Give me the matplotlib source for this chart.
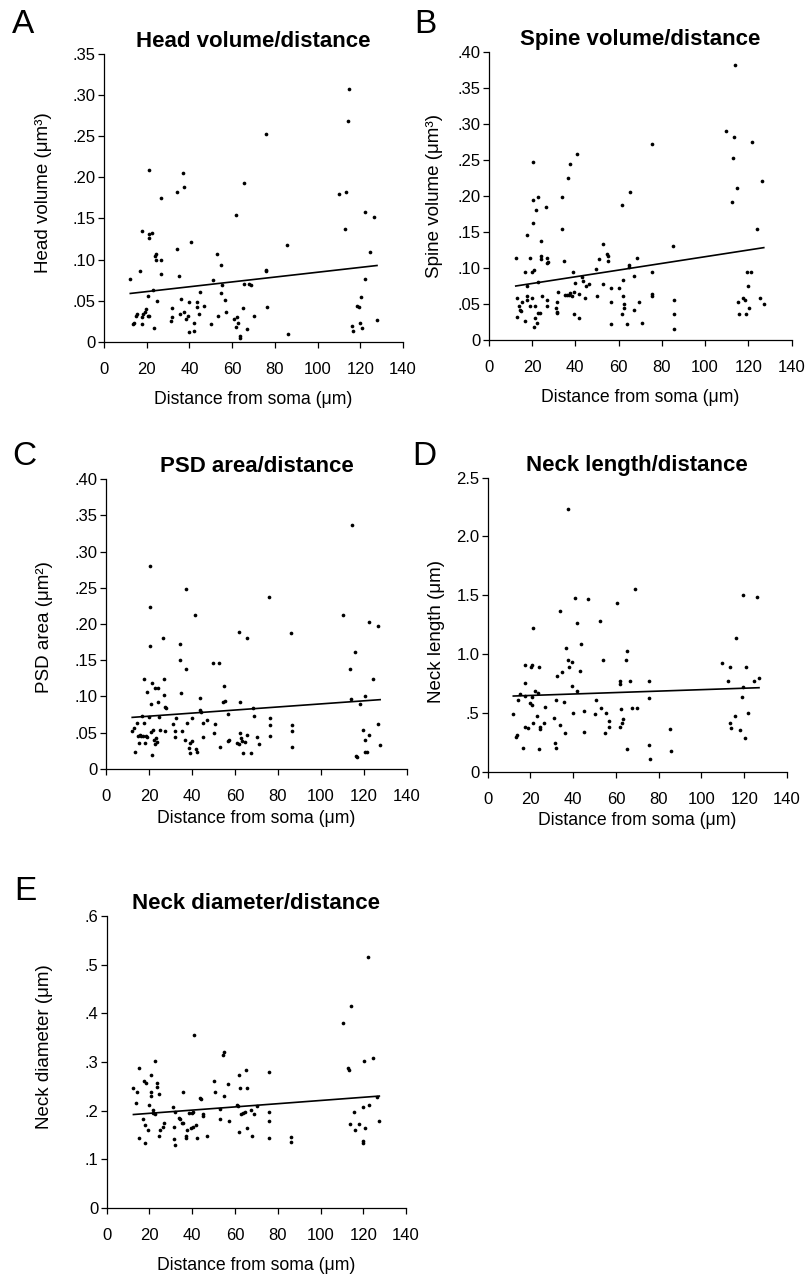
import numpy as np
import matplotlib.pyplot as plt

plt.rcParams['font.family'] = ['Liberation Sans', 'DejaVu Sans']

# A - head volume
x_a = [12.3, 13.5, 14.2, 15, 15.3, 16.8, 17.8, 17.8, 17.8, 18.4, 19.3, 19.8, 20.4, 20.8, 20.9, 20.9,
       21.1, 21.2, 22.3, 22.8, 23.6, 23.9, 24.1, 24.4, 24.7, 26.6, 26.7, 26.7, 31.4, 31.6, 31.9, 34.1,
       34.1, 34.9, 35.8, 36.2, 36.8, 37.4, 37.6, 38.2, 39.3, 39.6, 39.8, 40.9, 42, 42, 43.7, 43.6,
       44.5, 45, 46.7, 50, 50.8, 52.8, 53.3, 54.6, 54.9, 55.3, 56.6, 57.2, 61, 61.6, 62, 62.4, 62.9,
       63.7, 63.7, 65, 65.6, 65.6, 67.1, 67.8, 68.7, 70, 75.9, 75.9, 75.9, 76.1, 85.7, 86, 110.2,
       112.7, 113.5, 114, 114.5, 115.9, 116.4, 118.4, 119.2, 119.7, 120.3, 121, 122.2, 122.2, 124.4,
       126.6, 127.8]
y_a = [0.076, 0.0215, 0.0227, 0.032, 0.034, 0.086, 0.135, 0.0215, 0.030, 0.034, 0.036, 0.040, 0.032,
       0.056, 0.209, 0.131, 0.126, 0.032, 0.132, 0.063, 0.017, 0.105, 0.099, 0.107, 0.050, 0.175, 0.099,
       0.082, 0.026, 0.030, 0.041, 0.182, 0.113, 0.080, 0.034, 0.052, 0.205, 0.036, 0.188, 0.028, 0.032,
       0.012, 0.048, 0.122, 0.0235, 0.013, 0.048, 0.042, 0.034, 0.061, 0.044, 0.022, 0.075, 0.107, 0.032,
       0.059, 0.093, 0.069, 0.051, 0.036, 0.028, 0.154, 0.018, 0.030, 0.0235, 0.0073, 0.0053, 0.041,
       0.193, 0.070, 0.016, 0.070, 0.069, 0.031, 0.253, 0.087, 0.086, 0.043, 0.118, 0.010, 0.180, 0.137,
       0.182, 0.268, 0.307, 0.019, 0.013, 0.044, 0.043, 0.0235, 0.054, 0.017, 0.158, 0.076, 0.109,
       0.152, 0.027]
fit_a = (0.000294, 0.0553)

# B - spine volume
x_b = [12.5, 13.2, 13.2, 14, 14.5, 15, 15.2, 16.6, 16.8, 17.5, 17.5, 17.9, 17.9, 18.9, 19.3, 19.9,
       20.2, 20.6, 20.6, 20.6, 20.8, 21.1, 21.4, 21.6, 22, 22.2, 22.6, 22.6, 22.8, 23.7, 24, 24, 24.2,
       24.5, 26.3, 26.8, 26.9, 26.9, 27.1, 27.6, 31.1, 31.4, 31.4, 31.7, 32.2, 33.9, 33.9, 34.7, 35.4,
       36, 36.7, 37.3, 37.6, 37.6, 38.3, 39, 39.3, 39.4, 39.9, 40.7, 41.6, 41.9, 43.3, 43.6, 44.5, 44.9,
       46.5, 49.6, 50.2, 50.8, 52.8, 53, 54.8, 55.1, 55.1, 56.4, 56.7, 56.7, 60.2, 61.8, 61.8, 62.1,
       62.2, 62.7, 62.7, 63.8, 64.7, 65, 65.1, 67.3, 67.3, 68.7, 69.6, 70.7, 75.6, 75.6, 75.6, 75.6,
       85.3, 85.5, 85.5, 85.5, 109.7, 112.4, 112.7, 113.4, 113.7, 114.7, 115.4, 115.8, 117.4, 118.4,
       118.9, 119.4, 119.8, 120.4, 121.4, 121.8, 124.1, 125.5, 126.1, 127.1]
y_b = [0.1145, 0.058, 0.032, 0.047, 0.042, 0.041, 0.053, 0.095, 0.027, 0.146, 0.075, 0.061, 0.056,
       0.1145, 0.047, 0.058, 0.095, 0.2466, 0.194, 0.163, 0.0185, 0.097, 0.047, 0.030, 0.180, 0.024,
       0.199, 0.038, 0.081, 0.038, 0.117, 0.112, 0.137, 0.061, 0.185, 0.1145, 0.056, 0.047, 0.107,
       0.109, 0.044, 0.039, 0.038, 0.053, 0.067, 0.199, 0.154, 0.110, 0.062, 0.062, 0.225, 0.062, 0.245,
       0.065, 0.061, 0.095, 0.036, 0.067, 0.079, 0.2586, 0.030, 0.064, 0.088, 0.082, 0.059, 0.0755,
       0.078, 0.098, 0.061, 0.112, 0.134, 0.078, 0.1195, 0.117, 0.110, 0.072, 0.053, 0.022, 0.072,
       0.188, 0.036, 0.084, 0.061, 0.050, 0.044, 0.022, 0.104, 0.102, 0.205, 0.042, 0.089, 0.1145,
       0.053, 0.024, 0.272, 0.095, 0.064, 0.061, 0.131, 0.056, 0.036, 0.016, 0.290, 0.191, 0.2526,
       0.282, 0.382, 0.211, 0.053, 0.036, 0.058, 0.056, 0.036, 0.095, 0.0755, 0.044, 0.095, 0.275,
       0.154, 0.058, 0.2215, 0.050]
fit_b = (0.000465, 0.0692)

# C - PSD area
x_c = [12.2, 12.8, 13.7, 14.3, 14.8, 15.3, 15.9, 16.4, 16.8, 17.1, 17.6, 17.9, 18.1, 18.4, 19.2, 19.2,
       20, 20.6, 20.7, 20.7, 21, 21, 21.4, 21.5, 22, 22.3, 22.6, 22.9, 23.4, 23.7, 24.2, 24.2, 24.6,
       24.9, 26.5, 26.8, 26.8, 27.3, 27.3, 27.7, 31.2, 32, 32, 32.4, 34.3, 34.3, 35.1, 35.5, 36.6, 37.1,
       37.4, 37.9, 38.5, 39, 39.3, 39.8, 40.2, 41.3, 41.8, 42.1, 43.6, 43.9, 44.4, 44.9, 45.2, 47.1,
       49.9, 50.4, 50.8, 52.7, 53, 54.6, 54.9, 55.5, 56.6, 56.9, 57.4, 60.8, 61.7, 62, 62.4, 62.4, 62.7,
       63.2, 63.9, 64.7, 65.5, 65.5, 67.5, 68.3, 68.9, 70.1, 71.1, 75.8, 76.1, 76.1, 76.1, 86.2, 86.5,
       86.5, 86.5, 110.4, 113.5, 113.8, 114.3, 115.7, 116.1, 116.6, 118.2, 119.7, 120.3, 120.5, 120.6,
       121.3, 122.2, 122.5, 124.4, 126.3, 126.4, 127.5]
y_c = [0.052, 0.0566, 0.024, 0.064, 0.045, 0.036, 0.047, 0.045, 0.073, 0.046, 0.124, 0.064, 0.036,
       0.045, 0.106, 0.044, 0.072, 0.280, 0.224, 0.170, 0.089, 0.051, 0.119, 0.0198, 0.054, 0.040, 0.034,
       0.112, 0.043, 0.037, 0.112, 0.092, 0.072, 0.054, 0.181, 0.124, 0.1025, 0.086, 0.052, 0.084,
       0.0625, 0.052, 0.044, 0.070, 0.173, 0.150, 0.105, 0.052, 0.040, 0.248, 0.138, 0.064, 0.029,
       0.036, 0.022, 0.038, 0.070, 0.213, 0.027, 0.024, 0.098, 0.082, 0.078, 0.044, 0.064, 0.068, 0.146,
       0.050, 0.0625, 0.146, 0.030, 0.092, 0.114, 0.094, 0.076, 0.038, 0.040, 0.036, 0.034, 0.189, 0.092,
       0.050, 0.043, 0.038, 0.022, 0.037, 0.181, 0.047, 0.022, 0.084, 0.0735, 0.044, 0.034, 0.237,
       0.070, 0.060, 0.046, 0.187, 0.060, 0.052, 0.030, 0.213, 0.138, 0.096, 0.3366, 0.162, 0.0175,
       0.0166, 0.090, 0.054, 0.024, 0.100, 0.040, 0.024, 0.047, 0.203, 0.124, 0.0625, 0.197, 0.033]
fit_c = (0.000212, 0.0686)

# D - neck length
x_d = [12, 13.2, 13.9, 14.2, 15.1, 16.7, 17.3, 17.3, 17.6, 17.6, 19, 19.8, 20.1, 20.6, 20.7, 20.9, 21,
       21.3, 22.1, 22.9, 23.4, 23.8, 24.1, 24.5, 24.5, 26.3, 26.6, 31, 31.3, 31.8, 31.9, 32.2, 33.8,
       33.9, 34.9, 35.7, 36.3, 36.8, 37.4, 37.7, 38.2, 39.3, 39.4, 39.7, 40.8, 41.7, 41.7, 43.4, 43.8,
       44.9, 45, 46.7, 50.1, 50.6, 52.6, 52.8, 54, 55, 55.3, 56.7, 56.7, 60.3, 61.7, 61.8, 62.1, 62.5,
       62.9, 63.4, 64.6, 65.1, 65.3, 66.8, 67.6, 68.8, 69.9, 75.5, 75.5, 75.5, 75.7, 85.5, 85.7, 109.8,
       112.6, 113.2, 113.5, 114, 115.6, 116, 117.9, 119.1, 119.5, 119.5, 120.2, 121, 121.8, 124.4, 126,
       126.9]
y_d = [0.488, 0.298, 0.312, 0.609, 0.660, 0.198, 0.643, 0.757, 0.907, 0.383, 0.368, 0.581, 0.887,
       0.567, 0.638, 0.907, 1.219, 0.417, 0.689, 0.473, 0.666, 0.893, 0.190, 0.377, 0.360, 0.417, 0.553,
       0.456, 0.247, 0.198, 0.609, 0.813, 0.397, 1.366, 0.845, 0.595, 0.326, 1.054, 2.231, 0.950, 0.893,
       0.935, 0.731, 0.496, 1.474, 1.261, 0.689, 0.859, 1.083, 0.516, 0.340, 1.465, 0.488, 0.609, 1.284,
       0.539, 0.950, 0.326, 0.496, 0.434, 0.377, 1.431, 0.383, 0.774, 0.743, 0.530, 0.417, 0.448, 0.950,
       1.029, 0.190, 0.774, 0.539, 1.553, 0.539, 0.771, 0.624, 0.227, 0.105, 0.363, 0.176, 0.921, 0.771,
       0.893, 0.417, 0.368, 0.473, 1.134, 0.354, 0.638, 1.502, 0.723, 0.283, 0.893, 0.502, 0.771, 1.488,
       0.799]
fit_d = (0.000616, 0.6356)

# E - neck diameter
x_e = [12.5, 13.6, 14, 15, 15.3, 16.8, 17.6, 17.9, 18.1, 18.4, 19.2, 19.9, 20.6, 20.7, 20.7, 21.5,
       21.8, 22.4, 22.8, 23.7, 23.7, 24.3, 24.6, 24.9, 26.5, 26.8, 31.2, 31.5, 31.6, 31.8, 32.1, 34,
       34.3, 35, 35.7, 35.8, 36.9, 37.2, 37.7, 38.6, 39.3, 39.7, 40.2, 40.5, 41, 41.8, 42.1, 43.6, 43.9,
       44.9, 45.2, 47.1, 50.3, 50.6, 52.9, 52.9, 54.5, 55, 55, 56.9, 57, 60.8, 61.4, 62, 62, 62.3, 62.6,
       63.9, 64.7, 65.1, 65.5, 65.5, 67.3, 67.8, 69, 70.1, 76, 76, 76, 76, 86.2, 86.2, 110.3, 113,
       113.4, 114.2, 113.8, 115.8, 116.3, 118.1, 119.7, 120, 120, 120.3, 120.9, 122.2, 122.5, 124.7,
       126.5, 127.5]
y_e = [0.2455, 0.216, 0.2387, 0.144, 0.2867, 0.1818, 0.2606, 0.1324, 0.170, 0.2572, 0.160, 0.211,
       0.2723, 0.2387, 0.2298, 0.201, 0.194, 0.3025, 0.1927, 0.2572, 0.249, 0.148, 0.234, 0.160, 0.1667,
       0.1735, 0.2078, 0.1667, 0.1406, 0.129, 0.1975, 0.185, 0.1818, 0.175, 0.2373, 0.175, 0.144, 0.148,
       0.160, 0.194, 0.1632, 0.1955, 0.1667, 0.1975, 0.3553, 0.170, 0.144, 0.2263, 0.223, 0.1886,
       0.1927, 0.148, 0.2613, 0.2387, 0.2023, 0.1818, 0.3141, 0.321, 0.2304, 0.2538, 0.1783, 0.211,
       0.209, 0.2723, 0.1564, 0.2455, 0.1927, 0.1955, 0.1975, 0.2833, 0.2455, 0.1632, 0.201, 0.148,
       0.1927, 0.209, 0.2798, 0.1975, 0.1783, 0.144, 0.146, 0.1358, 0.3807, 0.2867, 0.2833, 0.415,
       0.1715, 0.1975, 0.160, 0.1715, 0.1372, 0.1324, 0.2078, 0.3018, 0.1632, 0.5165, 0.211, 0.3086,
       0.227, 0.1783]
fit_e = (0.00033, 0.1876)

x_ticks = [0, 20, 40, 60, 80, 100, 120, 140]
yt_a = [0, .05, .10, .15, .20, .25, .30, .35]
yl_a = ['0', '.05', '.10', '.15', '.20', '.25', '.30', '.35']
yt_b = [0, .05, .10, .15, .20, .25, .30, .35, .40]
yl_b = ['0', '.05', '.10', '.15', '.20', '.25', '.30', '.35', '.40']
yt_d = [0, .5, 1.0, 1.5, 2.0, 2.5]
yl_d = ['0', '.5', '1.0', '1.5', '2.0', '2.5']
yt_e = [0, .1, .2, .3, .4, .5, .6]
yl_e = ['0', '.1', '.2', '.3', '.4', '.5', '.6']


def panel(rect, x, y, fit, yt, yl, title, ylabel, letter, lab_xy, xpad, let_xy):
    ax = fig.add_axes(rect)
    ax.scatter(x, y, s=7, c='black', linewidths=0)
    xs = np.array([min(x), max(x)])
    ax.plot(xs, fit[0] * xs + fit[1], color='black', lw=1.2)
    ax.set_xlim(0, 140)
    ax.set_ylim(0, yt[-1])
    ax.set_xticks(x_ticks)
    ax.set_yticks(yt)
    ax.set_yticklabels(yl)
    for s in ['top', 'right']:
        ax.spines[s].set_visible(False)
    for s in ['left', 'bottom']:
        ax.spines[s].set_linewidth(0.9)
    ax.tick_params(axis='x', direction='out', length=4, width=0.9, pad=10.5, labelsize=12)
    ax.tick_params(axis='y', direction='out', length=4.5, width=0.9, pad=1.5, labelsize=12)
    ax.set_title(title, fontsize=16, fontweight='bold', pad=5)
    ax.set_xlabel('Distance from soma (\u03bcm)', fontsize=12.7, labelpad=xpad)
    ax.set_ylabel(ylabel, fontsize=13.5)
    ax.yaxis.set_label_coords(*lab_xy)
    # panel letter, placed in pixel terms of the 809x1274 figure
    fig.text(let_xy[0] / 809, 1 - let_xy[1] / 1274, letter, fontsize=24, va='baseline')
    return ax


fig = plt.figure(figsize=(8.09, 12.74), dpi=100)

panel([0.1286, 0.7316, 0.3696, 0.2261], x_a, y_a, fit_a, yt_a, yl_a,
      'Head volume/distance', 'Head volume (\u03bcm\u00b3)', 'A', (-0.174, 0.517), 10, (12, 33))
panel([0.6041, 0.7331, 0.3745, 0.2261], x_b, y_b, fit_b, yt_b, yl_b,
      'Spine volume/distance', 'Spine volume (\u03bcm\u00b3)', 'B', (-0.15, 0.5), 10, (414, 33))
panel([0.1310, 0.3964, 0.3721, 0.2276], x_c, y_c, fit_c, yt_b, yl_b,
      'PSD area/distance', 'PSD area (\u03bcm\u00b2)', 'C', (-0.175, 0.49), 4, (12, 465))
panel([0.6028, 0.3943, 0.3700, 0.2308], x_d, y_d, fit_d, yt_d, yl_d,
      'Neck length/distance', 'Neck length (\u03bcm)', 'D', (-0.143, 0.475), 4, (412, 465))
panel([0.1319, 0.0520, 0.3700, 0.2290], x_e, y_e, fit_e, yt_e, yl_e,
      'Neck diameter/distance', 'Neck diameter (\u03bcm)', 'E', (-0.179, 0.551), 10, (14, 900))

fig.savefig('out.png', dpi=100)
